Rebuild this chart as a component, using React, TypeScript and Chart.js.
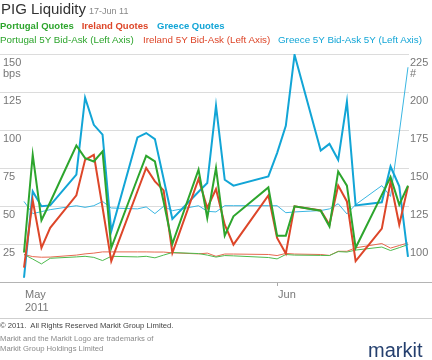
import React, { useEffect, useRef } from "react";
import { Chart, registerables } from "chart.js";

Chart.register(...registerables);

// ---- data ----
const dates = [
  "2011-05-03", "2011-05-04", "2011-05-05", "2011-05-06",
  "2011-05-09", "2011-05-10", "2011-05-11", "2011-05-12", "2011-05-13",
  "2011-05-16", "2011-05-17", "2011-05-18", "2011-05-19", "2011-05-20",
  "2011-05-23", "2011-05-24", "2011-05-25", "2011-05-26", "2011-05-27",
  "2011-05-31", "2011-06-01", "2011-06-02", "2011-06-03",
  "2011-06-06", "2011-06-07", "2011-06-08", "2011-06-09", "2011-06-10",
  "2011-06-13", "2011-06-14", "2011-06-15", "2011-06-16",
];

// Quotes (right axis, #)
const portugalQuotes = [94.4, 158.7, 115.6, 127.5, 164.8, 156.5, 154.3, 160.9, 97.5, 143.1, 158.0, 154.3, 127.8, 100.1, 148.9, 117.1, 150.0, 105.5, 118.2, 137.2, 105.5, 105.5, 124.8, 121.9, 111.6, 147.7, 138.4, 97.5, 132.3, 144.1, 125.9, 138.4];
const irelandQuotes = [84.5, 128.7, 97.5, 110.6, 132.0, 155.4, 158.7, 124.0, 88.7, 134.7, 150.0, 141.2, 135.3, 94.2, 142.8, 123.7, 136.2, 112.7, 99.6, 132.0, 104.0, 93.7, 124.8, 122.1, 112.7, 138.4, 128.0, 88.7, 110.1, 141.0, 112.7, 137.9];
const greeceQuotes = [77.8, 134.6, 124.8, 125.4, 145.6, 196.3, 178.4, 172.0, 108.4, 170.1, 173.0, 169.0, 142.8, 116.5, 134.4, 140.1, 190.9, 142.3, 138.4, 144.5, 159.8, 177.7, 224.5, 161.5, 165.9, 155.4, 193.7, 125.4, 127.4, 151.0, 137.9, 91.5];

// 5Y Bid-Ask (left axis, bps)
const portugalBidAsk = [18.1, 15.1, 11.9, 15.6, 16.5, 16.9, 16.2, 14.1, 16.9, 16.5, 16.9, 15.9, 17.7, 19.4, 18.7, 17.7, 16.4, 17.4, 17.2, 16.1, 15.2, 18.1, 17.7, 17.5, 17.4, 20.0, 19.7, 21.0, 23.0, 20.7, 22.6, 24.6];
const irelandBidAsk = [18.1, 16.7, 16.3, 16.4, 17.7, 18.5, 19.0, 19.8, 19.8, 19.8, 19.8, 19.7, 19.7, 19.2, 18.5, 19.0, 16.9, 18.4, 18.4, 18.1, 17.4, 18.8, 18.4, 18.1, 17.5, 20.2, 20.2, 22.5, 25.3, 22.3, 24.0, 25.7];
const greeceBidAsk = [53.0, 45.0, 46.3, 47.6, 50.2, 49.1, 50.2, 53.0, 48.7, 48.1, 49.4, 45.0, 49.8, 46.9, 50.2, 46.5, 46.1, 50.2, 50.2, 50.2, 50.2, 45.6, 46.1, 47.0, 48.1, 51.5, 44.8, 50.9, 63.4, 56.3, 98.1, 141.3];

const leftTicks = [0, 25, 50, 75, 100, 125, 150];
const rightTicks = [75, 100, 125, 150, 175, 200, 225];
const monthTickDates = ["2011-05-03", "2011-06-01"];
const monthTickLabels = [["May", "2011"], ["Jun"]];

const GREEN = "#2da52d";
const RED = "#dd4629";
const BLUE = "#12a5d6";
const GREEN_THIN = "#4dba4d";
const RED_THIN = "#e6684f";
const BLUE_THIN = "#3ab6e2";
const FONT = '"Liberation Sans", Arial, Helvetica, sans-serif';

function dayNum(d: string): number {
  return (Date.parse(d) - Date.parse("2011-05-01")) / 86400000 + 1;
}

function series(values: number[]) {
  return dates.map((d, i) => ({ x: dayNum(d), y: values[i] }));
}

export default function App() {
  const ref = useRef<HTMLCanvasElement | null>(null);

  useEffect(() => {
    if (!ref.current) return;
    Chart.defaults.font.family = FONT;
    const first = dayNum(dates[0]);
    const last = dayNum(dates[dates.length - 1]);
    const junTick = dayNum("2011-06-01");
    const chart = new Chart(ref.current, {
      type: "line",
      data: {
        datasets: [
          { label: "Portugal Quotes", data: series(portugalQuotes), yAxisID: "yR", borderColor: GREEN, borderWidth: 2, pointRadius: 0, tension: 0 },
          { label: "Ireland Quotes", data: series(irelandQuotes), yAxisID: "yR", borderColor: RED, borderWidth: 2, pointRadius: 0, tension: 0 },
          { label: "Greece Quotes", data: series(greeceQuotes), yAxisID: "yR", borderColor: BLUE, borderWidth: 2, pointRadius: 0, tension: 0 },
          { label: "Portugal 5Y Bid-Ask (Left Axis)", data: series(portugalBidAsk), yAxisID: "yL", borderColor: GREEN_THIN, borderWidth: 1, pointRadius: 0, tension: 0 },
          { label: "Ireland 5Y Bid-Ask (Left Axis)", data: series(irelandBidAsk), yAxisID: "yL", borderColor: RED_THIN, borderWidth: 1, pointRadius: 0, tension: 0 },
          { label: "Greece 5Y Bid-Ask 5Y (Left Axis)", data: series(greeceBidAsk), yAxisID: "yL", borderColor: BLUE_THIN, borderWidth: 1, pointRadius: 0, tension: 0 },
        ],
      },
      options: {
        animation: false,
        responsive: false,
        maintainAspectRatio: false,
        layout: { padding: { top: 54, bottom: 48, left: 0, right: 0 } },
        plugins: { legend: { display: false }, tooltip: { enabled: false } },
        scales: {
          x: {
            type: "linear",
            position: "bottom",
            min: first - 2.75,
            max: last + 0.115,
            afterBuildTicks: (s: any) => {
              s.ticks = monthTickDates.map((d) => ({ value: dayNum(d) }));
            },
            afterFit: (s: any) => {
              s.height = 30;
            },
            ticks: {
              autoSkip: false,
              maxRotation: 0,
              minRotation: 0,
              align: "start",
              padding: 2,
              labelOffset: 1,
              color: "#777",
              font: { size: 11, family: FONT, lineHeight: 1.2 },
              callback: (_v: any, i: number) => monthTickLabels[i],
            },
            grid: {
              drawOnChartArea: false,
              drawTicks: true,
              tickLength: 4,
              color: (ctx: any) => (ctx.tick && ctx.tick.value === junTick ? "#aaa" : "rgba(0,0,0,0)"),
            },
            border: { display: false },
          },
          yL: {
            type: "linear",
            position: "left",
            min: 0,
            max: 150,
            afterBuildTicks: (s: any) => {
              s.ticks = leftTicks.map((v) => ({ value: v }));
            },
            afterFit: (s: any) => {
              s.width = 0;
            },
            ticks: {
              mirror: true,
              padding: 3,
              labelOffset: 14.2,
              color: "#777",
              font: { size: 11, family: FONT, lineHeight: 1 },
              callback: (v: any) => (v === 150 ? ["150", "bps"] : v === 0 ? ["", ""] : [String(v), ""]),
            },
            grid: { color: "#dcdcdc", lineWidth: 1, drawTicks: false },
            border: { display: false },
          },
          yR: {
            type: "linear",
            position: "right",
            min: 75,
            max: 225,
            afterBuildTicks: (s: any) => {
              s.ticks = rightTicks.map((v) => ({ value: v }));
            },
            afterFit: (s: any) => {
              s.width = 23;
            },
            ticks: {
              padding: 1,
              labelOffset: 14.2,
              color: "#777",
              font: { size: 11, family: FONT, lineHeight: 1 },
              callback: (v: any) => (v === 225 ? ["225", "#"] : v === 75 ? ["", ""] : [String(v), ""]),
            },
            grid: { display: false, drawTicks: false },
            border: { display: false },
          },
        },
      },
    } as any);
    return () => chart.destroy();
  }, []);

  const abs = (o: React.CSSProperties): React.CSSProperties => ({ position: "absolute", whiteSpace: "nowrap", ...o });

  return (
    <div style={{ position: "absolute", left: 0, top: 0, width: 432, height: 360, background: "#fff", overflow: "hidden", fontFamily: FONT }}>
      <canvas ref={ref} width={432} height={360} style={{ position: "absolute", left: 0, top: 0, width: 432, height: 360 }} />

      <div style={abs({ left: 1, top: 0, fontSize: 15, lineHeight: "17px", color: "#333" })}>
        PIG Liquidity
        <span style={{ fontSize: 9, color: "#888", marginLeft: 3 }}>17-Jun 11</span>
      </div>

      <div style={abs({ left: 0, top: 20, fontSize: 9.5, lineHeight: "12px", fontWeight: "bold", color: GREEN })}>Portugal Quotes</div>
      <div style={abs({ left: 81.7, top: 20, fontSize: 9.5, lineHeight: "12px", fontWeight: "bold", color: RED })}>Ireland Quotes</div>
      <div style={abs({ left: 157, top: 20, fontSize: 9.5, lineHeight: "12px", fontWeight: "bold", color: BLUE })}>Greece Quotes</div>

      <div style={abs({ left: 0, top: 34, fontSize: 9.8, lineHeight: "12px", color: GREEN })}>Portugal 5Y Bid-Ask (Left Axis)</div>
      <div style={abs({ left: 143, top: 34, fontSize: 9.8, lineHeight: "12px", color: RED })}>Ireland 5Y Bid-Ask (Left Axis)</div>
      <div style={abs({ left: 278, top: 34, fontSize: 9.8, lineHeight: "12px", color: BLUE })}>Greece 5Y Bid-Ask 5Y (Left Axis)</div>

      <div style={abs({ left: 0, top: 282, width: 432, height: 1, background: "#b4b4b4" })} />
      <div style={abs({ left: 0, top: 318, width: 432, height: 1, background: "#cfcfcf" })} />

      <div style={abs({ left: 0, top: 320.5, fontSize: 7.7, lineHeight: "9px", color: "#444" })}>© 2011.{"\u00a0 "}All Rights Reserved Markit Group Limited.</div>
      <div style={abs({ left: 0, top: 333.8, fontSize: 7.7, lineHeight: "9px", color: "#8a8a8a" })}>Markit and the Markit Logo are trademarks of</div>
      <div style={abs({ left: 0, top: 343.8, fontSize: 7.7, lineHeight: "9px", color: "#8a8a8a" })}>Markit Group Holdings Limited</div>

      <div style={abs({ left: 368, top: 338.8, fontSize: 20, lineHeight: "22px", color: "#243f6e" })}>markit</div>
    </div>
  );
}
